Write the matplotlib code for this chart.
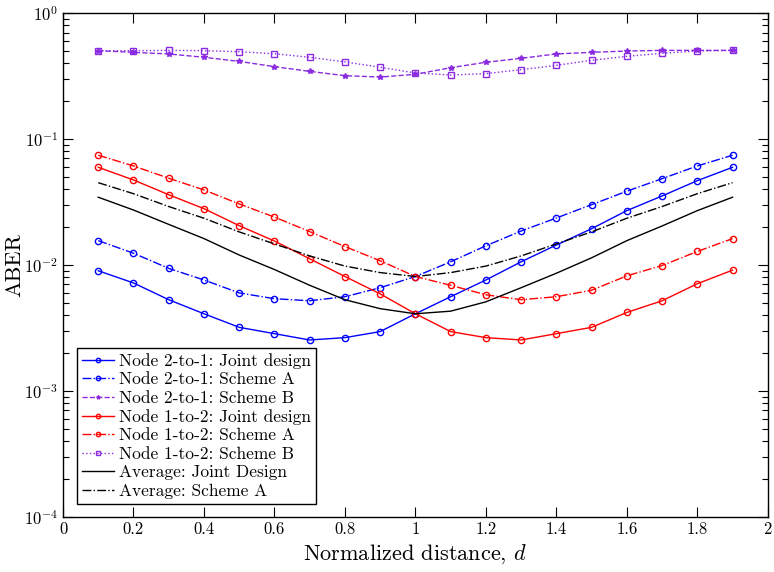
import matplotlib
matplotlib.use('Agg')
import matplotlib.pyplot as plt
from matplotlib.ticker import FuncFormatter, LogLocator

plt.rcParams['font.family'] = 'serif'
plt.rcParams['font.serif'] = ['cmr10', 'DejaVu Serif']
plt.rcParams['mathtext.fontset'] = 'cm'
plt.rcParams['axes.formatter.use_mathtext'] = True

# normalized distance
d = [0.1, 0.2, 0.3, 0.4, 0.5, 0.6, 0.7, 0.8, 0.9, 1.0,
     1.1, 1.2, 1.3, 1.4, 1.5, 1.6, 1.7, 1.8, 1.9]

# node 2-to-1
n21_joint = [0.0090, 0.0072, 0.0053, 0.0041, 0.0032, 0.00285, 0.00254, 0.00265, 0.00296, 0.0041,
             0.0056, 0.0076, 0.0106, 0.0144, 0.0194, 0.0270, 0.0353, 0.0467, 0.0596]
n21_schA = [0.0156, 0.0124, 0.0094, 0.0076, 0.0060, 0.0054, 0.0052, 0.0056, 0.0066, 0.0081,
            0.0106, 0.0142, 0.0186, 0.0236, 0.0301, 0.0385, 0.0484, 0.0611, 0.0743]
n21_schB = [0.502, 0.487, 0.473, 0.445, 0.413, 0.375, 0.344, 0.318, 0.310, 0.326,
            0.368, 0.406, 0.437, 0.473, 0.487, 0.499, 0.505, 0.505, 0.505]

# node 1-to-2
n12_joint = [0.0596, 0.0473, 0.0361, 0.0280, 0.0205, 0.0155, 0.0112, 0.0081, 0.0059, 0.0041,
             0.00296, 0.00265, 0.00254, 0.00285, 0.0032, 0.0042, 0.0052, 0.0071, 0.0091]
n12_schA = [0.0743, 0.0611, 0.0488, 0.0394, 0.0305, 0.0240, 0.0184, 0.0140, 0.0108, 0.0081,
            0.0069, 0.0058, 0.0053, 0.0056, 0.0063, 0.0082, 0.0099, 0.0128, 0.0162]
n12_schB = [0.502, 0.502, 0.505, 0.502, 0.493, 0.475, 0.445, 0.409, 0.371, 0.334,
            0.322, 0.330, 0.355, 0.384, 0.421, 0.453, 0.479, 0.499, 0.505]

# averages
avg_joint = [0.0345, 0.0273, 0.0210, 0.0162, 0.0120, 0.0092, 0.0069, 0.0053, 0.0045, 0.0041,
             0.0043, 0.0051, 0.0066, 0.0086, 0.0114, 0.0156, 0.0204, 0.0270, 0.0345]
avg_schA = [0.0450, 0.0368, 0.0291, 0.0235, 0.0183, 0.0147, 0.0118, 0.0098, 0.0087, 0.0081,
            0.0087, 0.0098, 0.0118, 0.0147, 0.0183, 0.0235, 0.0291, 0.0368, 0.0450]

purple = '#8A2BE2'

fig = plt.figure(figsize=(7.74, 5.72), dpi=100)
ax = fig.add_axes([0.0814, 0.0962, 0.9106, 0.8811])

ms = 4.5
ax.semilogy(d, n21_joint, '-', color='b', marker='o', mfc='none', ms=ms, lw=1,
            label='Node 2-to-1: Joint design')
ax.semilogy(d, n21_schA, '-.', color='b', marker='o', mfc='none', ms=ms, lw=1,
            label='Node 2-to-1: Scheme A')
ax.semilogy(d, n21_schB, '--', color=purple, marker='*', ms=4, lw=1,
            label='Node 2-to-1: Scheme B')
ax.semilogy(d, n12_joint, '-', color='r', marker='o', mfc='none', ms=ms, lw=1,
            label='Node 1-to-2: Joint design')
ax.semilogy(d, n12_schA, '-.', color='r', marker='o', mfc='none', ms=ms, lw=1,
            label='Node 1-to-2: Scheme A')
ax.semilogy(d, n12_schB, ':', color=purple, marker='s', mfc='none', ms=4, lw=1,
            label='Node 1-to-2: Scheme B')
ax.semilogy(d, avg_joint, '-', color='k', lw=1, label='Average: Joint Design')
ax.semilogy(d, avg_schA, '-.', color='k', lw=1, label='Average: Scheme A')

ax.set_xlim(0, 2)
ax.set_ylim(1e-4, 1)
ax.set_xticks([0, 0.2, 0.4, 0.6, 0.8, 1, 1.2, 1.4, 1.6, 1.8, 2])
ax.xaxis.set_major_formatter(FuncFormatter(lambda v, p: '%g' % v))
ax.yaxis.set_major_locator(LogLocator(base=10, numticks=10))
ax.tick_params(which='both', direction='in', top=True, right=True, labelsize=12)
ax.tick_params(which='major', length=7, width=0.8)
ax.tick_params(which='minor', length=4, width=0.8)
ax.tick_params(axis='x', which='minor', bottom=False, top=False)
for s in ax.spines.values():
    s.set_linewidth(1.0)

ax.set_xlabel('Normalized distance, $d$', fontsize=16)
ax.set_ylabel('ABER', fontsize=16, labelpad=0)

leg = ax.legend(loc='lower left', bbox_to_anchor=(0.02, 0.026), fontsize=12.5,
                frameon=True, fancybox=False, edgecolor='k', framealpha=1,
                handlelength=1.8, handletextpad=0.3, labelspacing=0.18,
                borderpad=0.3, borderaxespad=0, markerscale=0.7)
leg.get_frame().set_linewidth(1.0)

fig.savefig('out.png', dpi=100)
